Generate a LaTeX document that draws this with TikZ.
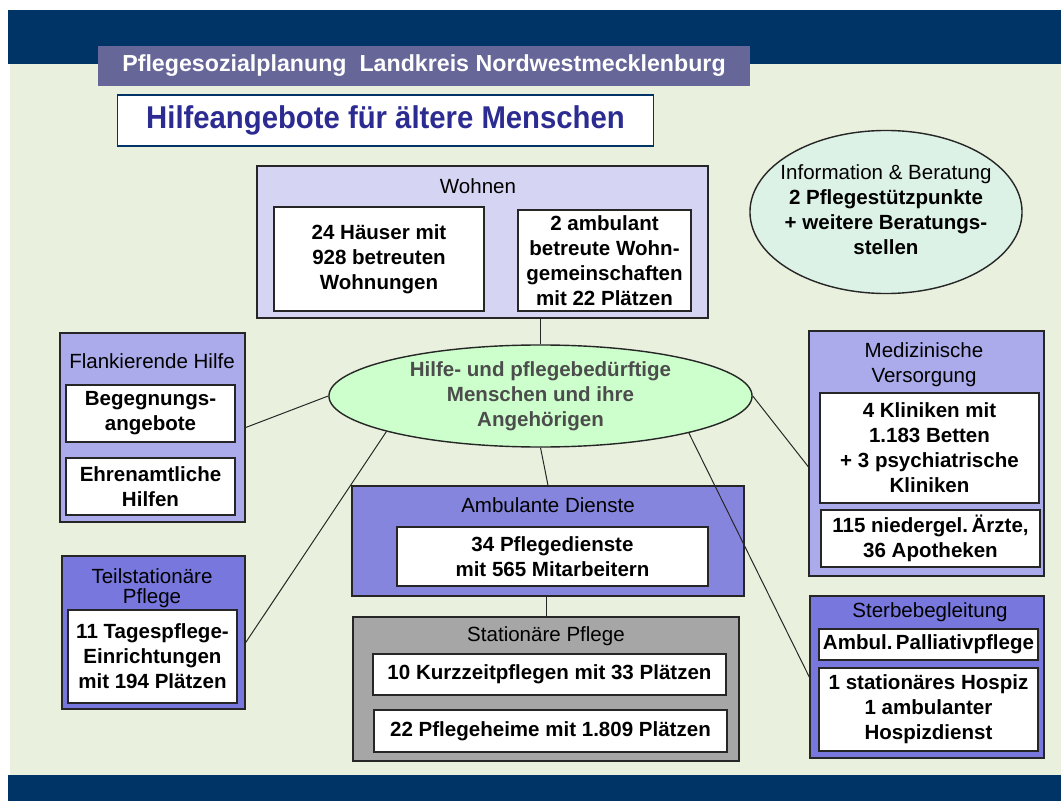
\documentclass[tikz,border=0pt]{standalone}
\usepackage{fontspec}
\setmainfont{Liberation Sans}
\usepackage{xcolor}
\usepackage{tikz}
\usetikzlibrary{shapes,arrows.meta,positioning,calc}

\definecolor{navy}{HTML}{003366}
\definecolor{paleground}{HTML}{E9F0DD}
\definecolor{titlebar}{HTML}{666699}
\definecolor{subtitleblue}{HTML}{2B2B91}
\definecolor{wohnfill}{HTML}{D5D5F3}
\definecolor{lilac}{HTML}{ABABEB}
\definecolor{violet}{HTML}{7777DD}
\definecolor{ambfill}{HTML}{8585DD}
\definecolor{statgray}{HTML}{A6A6A6}
\definecolor{mint}{HTML}{CCFFCC}
\definecolor{infofill}{HTML}{DDF2E6}

\begin{document}
\begin{tikzpicture}[x=0.025cm, y=-0.025cm,
    group/.style={rectangle, draw=black!85, line width=1pt, inner sep=0pt},
    item/.style={rectangle, draw=black!85, line width=1pt, fill=white, inner sep=0pt, align=center, font=\bfseries\fontsize{14.6}{17.8}\selectfont},
    head/.style={align=center, inner sep=0pt, font=\fontsize{14.6}{17.8}\selectfont},
    oval/.style={ellipse, draw=black!85, line width=1pt, inner sep=0pt},
    link/.style={draw=black!85, line width=0.7pt}
]
\useasboundingbox (0,0) rectangle (1061,801);

% Background and bars
\fill[paleground] (10,64) rectangle (1061,775);
\fill[navy] (8,10) rectangle (1061,64);
\fill[navy] (8,775) rectangle (1061,801);

% Titles
\node[fill=titlebar, minimum width=16.3cm, minimum height=1cm, text=white, font=\bfseries\fontsize{16.5}{19}\selectfont] (plan) at (424,66) {Pflegesozialplanung\ \ Landkreis Nordwestmecklenburg};
\node[fill=white, draw=navy, line width=0.8pt, minimum width=13.375cm, minimum height=1.275cm, text=subtitleblue, font=\bfseries\fontsize{22.4}{26}\selectfont] (topic) at (385.5,120.5) {\scalebox{0.93}[1]{Hilfeangebote für ältere Menschen}};

% Wohnen
\node[group, fill=wohnfill, minimum width=11.275cm, minimum height=3.8cm] (wohnen) at (482.5,242) {};
\node[head] (wohnen-t) at (478,186) {Wohnen};
\node[item, minimum width=5.25cm, minimum height=2.6cm] (haeuser) at (379,259) {24 Häuser mit\\928 betreuten\\Wohnungen};
\node[item, minimum width=4.325cm, minimum height=2.525cm] (wg) at (604.5,260.5) {2 ambulant\\betreute Wohn-\\gemeinschaften\\mit 22 Plätzen};

% Information
\node[oval, fill=infofill, minimum width=6.8cm, minimum height=4.075cm] (info) at (886,212) {};
\node[head] (info-t) at (886,210) {Information \& Beratung\\\bfseries 2 Pflegestützpunkte\\\bfseries + weitere Beratungs-\\\bfseries stellen};

% Centre
\node[oval, fill=mint, minimum width=10.575cm, minimum height=2.55cm, align=center, text=black!70, font=\bfseries\fontsize{14.6}{17.8}\selectfont] (mensch) at (540.5,396) {Hilfe- und pflegebedürftige\\Menschen und ihre\\Angehörigen};

% Flankierende Hilfe
\node[group, fill=lilac, minimum width=4.625cm, minimum height=4.725cm] (flank) at (152.5,427.5) {};
\node[head] (flank-t) at (152,361) {Flankierende Hilfe};
\node[item, minimum width=4.225cm, minimum height=1.425cm] (begegnung) at (150.5,413.5) {Begegnungs-\\angebote};
\node[item, minimum width=4.225cm, minimum height=1.425cm] (ehrenamt) at (150.5,486.5) {Ehrenamtliche\\Hilfen};

% Teilstationaere Pflege
\node[group, fill=violet, minimum width=4.575cm, minimum height=3.825cm] (teil) at (153.5,632.5) {};
\node[head, font=\fontsize{14.6}{14.6}\selectfont] (teil-t) at (152,588) {Teilstationäre\\Pflege};
\node[item, minimum width=4.225cm, minimum height=2.325cm] (tagespflege) at (152.5,656.5) {11 Tagespflege-\\Einrichtungen\\mit 194 Plätzen};

% Ambulante Dienste
\node[group, fill=ambfill, minimum width=9.8cm, minimum height=2.75cm] (amb) at (548,541) {};
\node[head] (amb-t) at (548,505) {Ambulante Dienste};
\node[item, minimum width=7.775cm, minimum height=1.475cm] (pflegedienste) at (552.5,556.5) {34 Pflegedienste\\mit 565 Mitarbeitern};

% Stationaere Pflege
\node[group, fill=statgray, minimum width=9.65cm, minimum height=3.6cm] (stat) at (546,689) {};
\node[head] (stat-t) at (546,636) {Stationäre Pflege};
\node[item, minimum width=8.825cm, minimum height=1.025cm] (kurzzeit) at (549.5,674.5) {10 Kurzzeitpflegen mit 33 Plätzen};
\node[item, minimum width=8.825cm, minimum height=1.05cm] (heime) at (550.5,731) {22 Pflegeheime mit 1.809 Plätzen};

% Medizinische Versorgung
\node[group, fill=lilac, minimum width=5.875cm, minimum height=6.125cm] (med) at (926.5,453.5) {};
\node[head] (med-t) at (924,364.5) {Medizinische\\Versorgung};
\node[item, minimum width=5.475cm, minimum height=2.75cm] (kliniken) at (929.5,448) {4 Kliniken mit\\1.183 Betten\\+ 3 psychiatrische\\Kliniken};
\node[item, minimum width=5.475cm, minimum height=1.425cm] (aerzte) at (930.5,538.5) {115 niedergel.\,Ärzte,\\36 Apotheken};

% Sterbebegleitung
\node[group, fill=violet, minimum width=5.85cm, minimum height=4.05cm] (sterbe) at (927,677) {};
\node[head] (sterbe-t) at (930,612) {Sterbebegleitung};
\node[item, minimum width=5.475cm, minimum height=0.775cm] (palliativ) at (928.5,644.5) {Ambul.\,Palliativpflege};
\node[item, minimum width=5.475cm, minimum height=2.075cm] (hospiz) at (928.5,709.5) {1 stationäres Hospiz\\1 ambulanter\\Hospizdienst};

% Lines
\draw[link] (mensch.north) -- (mensch.north |- wohnen.south);
\draw[link] (mensch.west) -- (flank.east);
\draw[link] (mensch.193) -- ([yshift=-0.25cm]teil.east);
\draw[link] (mensch.south) -- (amb.north);
\draw[link] (stat.north) -- (stat.north |- amb.south);
\draw[link] (mensch.east) -- ([yshift=-0.33cm]med.west);
\draw[link] (mensch.-14) -- (sterbe.west);
\end{tikzpicture}
\end{document}
